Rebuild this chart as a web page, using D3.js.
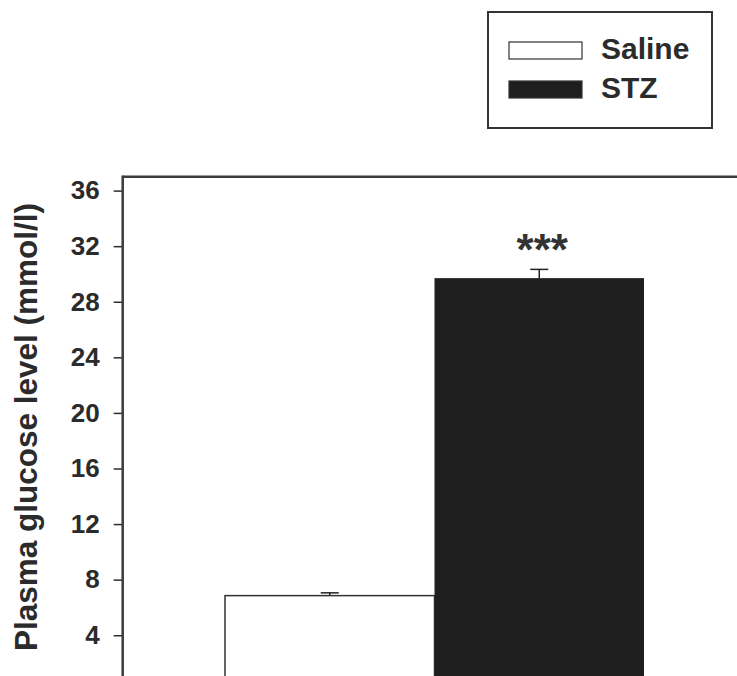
<!DOCTYPE html>
<html>
<head>
<meta charset="utf-8">
<script src="https://cdn.jsdelivr.net/npm/d3@7"></script>
<style>
  body { margin: 0; background: #fff; }
  svg { display: block; font-family: Arial, "Liberation Sans", sans-serif; font-weight: bold; }
</style>
</head>
<body>
<svg id="chart" width="737" height="676"></svg>
<script>
// data
var groups = ["Saline", "STZ"];
var means = [6.85, 29.7];
var sems = [0.2, 0.63];
var yTicks = [4, 8, 12, 16, 20, 24, 28, 32, 36];
var fills = ["#ffffff", "#1e1e1e"];
var marks = ["", "***"];

var svg = d3.select("#chart");
var ink = "#2b2b2b";

var y = d3.scaleLinear().domain([0, 36]).range([690.8, 190.6]);
var x = d3.scaleBand().domain(groups).range([225, 644]).padding(0);
var axisX = 122.7, yTop = y(37);

// top frame line, runs off the right edge
svg.append("line")
    .attr("x1", axisX).attr("x2", 737)
    .attr("y1", yTop).attr("y2", yTop)
    .attr("stroke", "#3a3a3a").attr("stroke-width", 2.5);

// bars
var bars = svg.append("g").attr("class", "bars");
groups.forEach(function(g, i){
    bars.append("rect")
        .attr("x", x(g))
        .attr("y", y(means[i]))
        .attr("width", x.bandwidth())
        .attr("height", 700 - y(means[i]))
        .attr("fill", fills[i])
        .attr("stroke", i == 0 ? "#333" : "none")
        .attr("stroke-width", 1.5);
    // error bar (upper only)
    var cx = x(g) + x.bandwidth() / 2;
    bars.append("line")
        .attr("x1", cx).attr("x2", cx)
        .attr("y1", y(means[i])).attr("y2", y(means[i] + sems[i]))
        .attr("stroke", "#222").attr("stroke-width", 1.5);
    bars.append("line")
        .attr("x1", cx - 9).attr("x2", cx + 9)
        .attr("y1", y(means[i] + sems[i])).attr("y2", y(means[i] + sems[i]))
        .attr("stroke", "#222").attr("stroke-width", 1.5);
    if (marks[i]) {
        bars.append("text")
            .attr("x", cx + 3)
            .attr("y", y(means[i] + sems[i]) - 4)
            .attr("text-anchor", "middle")
            .attr("font-size", 44)
            .attr("fill", "#333")
            .text(marks[i]);
    }
});

// y axis
var yAxis = d3.axisLeft(y).tickValues(yTicks).tickSize(9).tickPadding(14).tickSizeOuter(0);
var ga = svg.append("g")
    .attr("transform", "translate(" + axisX + ",0)")
    .call(yAxis);
ga.select(".domain").remove();
ga.selectAll(".tick line").attr("stroke", ink).attr("stroke-width", 1.5);
ga.selectAll(".tick text")
    .attr("fill", ink)
    .attr("font-size", 26)
    .attr("font-family", "Arial, 'Liberation Sans', sans-serif")
    .attr("font-weight", "bold");
svg.append("line")
    .attr("x1", axisX).attr("x2", axisX)
    .attr("y1", yTop - 1.2).attr("y2", 676)
    .attr("stroke", "#3a3a3a").attr("stroke-width", 2.5);

// y title
svg.append("text")
    .attr("transform", "translate(37,427) rotate(-90)")
    .attr("text-anchor", "middle")
    .attr("font-size", 31.5)
    .attr("fill", ink)
    .text("Plasma glucose level (mmol/l)");

// legend
var legend = svg.append("g").attr("class", "legend");
legend.append("rect")
    .attr("x", 488).attr("y", 12).attr("width", 224).attr("height", 116)
    .attr("fill", "#fff").attr("stroke", "#333").attr("stroke-width", 2);
var rowY = [42, 81];
groups.forEach(function(g, i){
    legend.append("rect")
        .attr("x", 509).attr("y", rowY[i])
        .attr("width", 73).attr("height", 17)
        .attr("fill", fills[i]).attr("stroke", "#333").attr("stroke-width", 1.2);
    legend.append("text")
        .attr("x", 601).attr("y", rowY[i] + 17)
        .attr("font-size", 30)
        .attr("fill", ink)
        .text(g);
});
</script>
</body>
</html>
